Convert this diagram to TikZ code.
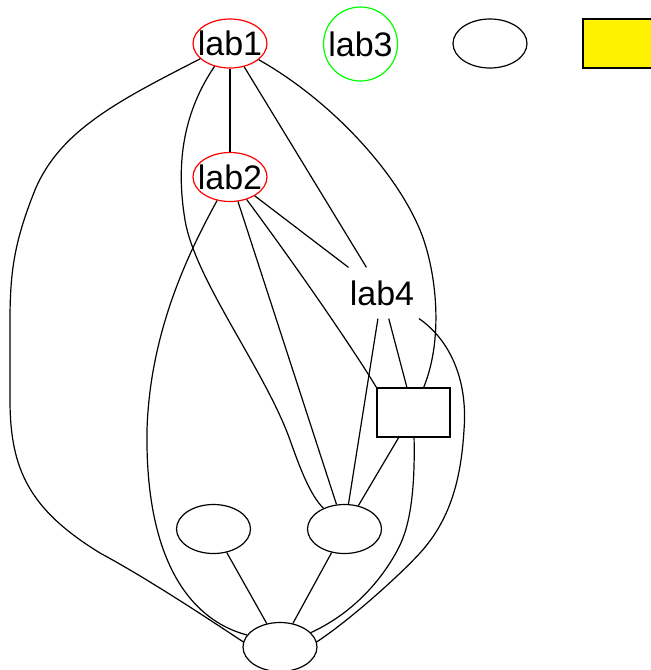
\documentclass[tikz,border=0pt]{standalone}
\usepackage{fontspec}
\setmainfont{Liberation Sans}
\usetikzlibrary{shapes.geometric}
\begin{document}
\begin{tikzpicture}[x=1pt,y=-1pt, line width=1.2pt,
  lbl/.style={font=\fontsize{34}{40}\selectfont},
  ell/.style={ellipse, draw, minimum width=74pt, minimum height=49pt, inner sep=0pt},
  boxn/.style={rectangle, draw, minimum width=73pt, minimum height=49pt, inner sep=0pt},
  plainn/.style={rectangle, minimum width=74pt, minimum height=50pt, inner sep=0pt, lbl}]
\useasboundingbox (0,0) rectangle (651,670);
% nodes
\node[ell, draw=red, lbl] (lab1) at (230,43.5) {\makebox[0pt]{lab1}};
\node[circle, draw=green, minimum size=74pt, inner sep=0pt, lbl] (lab3) at (360.5,44) {lab3};
\node[ell] (e1) at (490,43.5) {};
\node[boxn, fill=yellow] (y1) at (619.5,43.5) {};
\node[ell, draw=red, lbl] (lab2) at (230,177) {\makebox[0pt]{lab2}};
\node[plainn] (l4) at (382,293) {lab4};
\node[boxn] (s) at (413.5,412.5) {};
\node[ell] (q) at (213.5,529) {};
\node[ell] (r) at (344.5,529) {};
\node[ell] (b) at (280,647) {};
% straight connectors
\draw (lab1) -- (lab2);
\draw (lab1) -- (l4);
\draw (lab2) -- (l4);
\draw (lab2) -- (r);
\draw (lab2) .. controls (310,285) and (360,360) .. (s.north west);
\draw (l4) -- (r);
\draw (l4) -- (s);
\draw (s) -- (r);
\draw (q) -- (b);
\draw (r) -- (b);
% curved connectors
\draw (lab1) .. controls (120,100) and (60,130) .. (35,190)
  .. controls (15,240) and (10,270) .. (10,320) -- (10,400)
  .. controls (10,470) and (30,510) .. (100,553)
  .. controls (150,580) and (210,620) .. (b.172);
\draw (lab2) .. controls (190,250) and (150,330) .. (147,430)
  .. controls (145,560) and (190,620) .. (b.160);
\draw (lab1) .. controls (185,110) and (175,160) .. (185,220)
  .. controls (195,280) and (265,370) .. (290,440)
  .. controls (300,468) and (310,495) .. (r);
\draw (lab1) .. controls (330,100) and (395,170) .. (420,230)
  .. controls (435,266) and (445,335) .. (s);
\draw (l4) .. controls (450,340) and (468,380) .. (464,430)
  .. controls (461,480) and (450,520) .. (420,553)
  .. controls (400,575) and (350,620) .. (b.8);
\draw (s) .. controls (415,480) and (412,520) .. (400,545)
  .. controls (388,570) and (360,610) .. (b.25);
\end{tikzpicture}
\end{document}
